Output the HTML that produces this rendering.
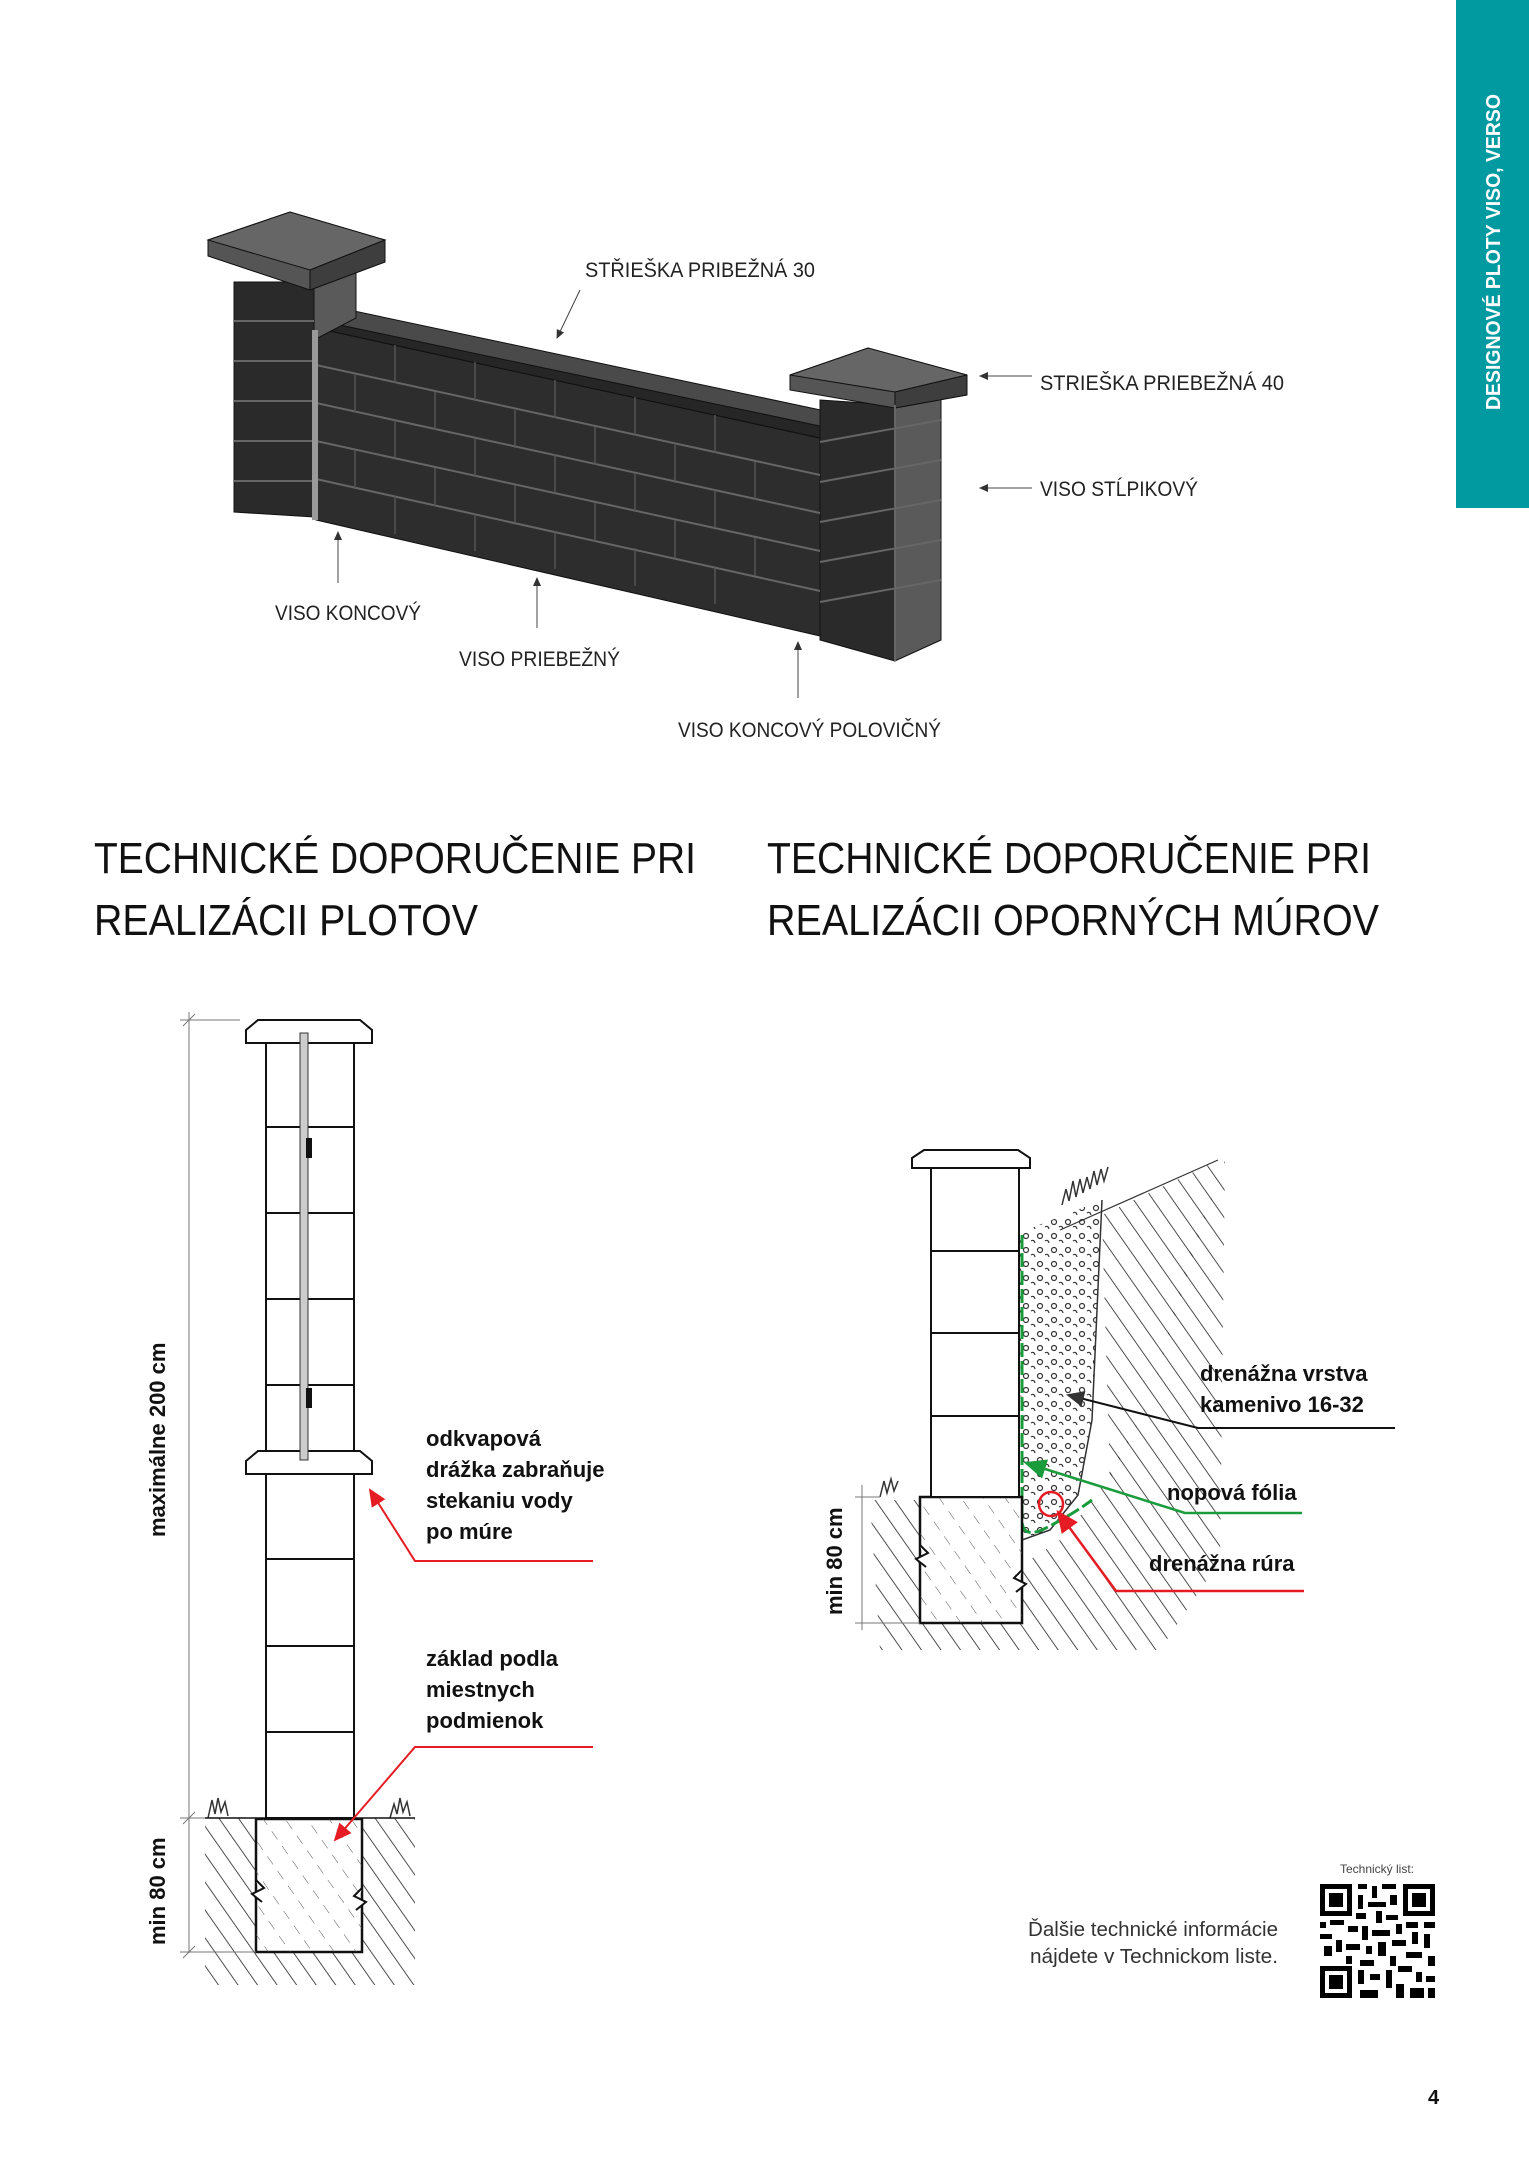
<!DOCTYPE html>
<html><head><meta charset="utf-8"><style>
html,body{margin:0;padding:0;background:#fff}
svg{display:block}
.l{font-family:"Liberation Sans",sans-serif;font-size:21px;fill:#222}
.h{font-family:"Liberation Sans",sans-serif;font-size:44px;fill:#111;font-weight:normal}
.b{font-family:"Liberation Sans",sans-serif;font-size:22px;fill:#111;font-weight:bold}
</style></head><body>
<svg width="1529" height="2160" viewBox="0 0 1529 2160" xmlns="http://www.w3.org/2000/svg">
<defs>
<pattern id="hat" patternUnits="userSpaceOnUse" width="16" height="16" patternTransform="rotate(-35)">
<line x1="0" y1="0" x2="0" y2="16" stroke="#222" stroke-width="1.6"/></pattern>
<pattern id="dash" patternUnits="userSpaceOnUse" width="18" height="18" patternTransform="rotate(-35)">
<line x1="0" y1="0" x2="0" y2="10" stroke="#555" stroke-width="1"/></pattern>
<pattern id="grav" patternUnits="userSpaceOnUse" width="14" height="14">
<circle cx="4" cy="4" r="2.5" fill="none" stroke="#333" stroke-width="1.2"/>
<path d="M9 9 q3 -2 4 2" fill="none" stroke="#333" stroke-width="1.2"/></pattern>
<marker id="ab" markerWidth="10" markerHeight="10" refX="8" refY="5" orient="auto"><path d="M0,1 L9,5 L0,9 z" fill="#333"/></marker>
<marker id="ar" markerWidth="10" markerHeight="10" refX="8" refY="5" orient="auto"><path d="M0,1 L9,5 L0,9 z" fill="#e51c23"/></marker>
<marker id="ag" markerWidth="10" markerHeight="10" refX="8" refY="5" orient="auto"><path d="M0,1 L9,5 L0,9 z" fill="#1a9b3c"/></marker>
</defs>

<rect x="1456" y="0" width="73" height="508" fill="#009aa0"/>
<text transform="translate(1500,410) rotate(-90)" font-family="Liberation Sans,sans-serif" font-weight="bold" font-size="20" fill="#fff" textLength="316" lengthAdjust="spacingAndGlyphs">DESIGNOVÉ PLOTY VISO, VERSO</text>

<g stroke="#111" stroke-width="1">
<polygon points="316,328 820,438 820,636 316,520" fill="#2d2d2d"/>
<polygon points="316,320 340,308 830,412 820,438 316,328" fill="#4a4a4a"/>
<polygon points="316,320 820,426 820,438 316,328" fill="#262626"/>
<polygon points="234,282 314,282 314,517 234,512" fill="#2a2a2a"/>
<polygon points="314,282 356,262 356,318 314,340" fill="#5a5a5a"/>
<polygon points="208,240 290,212 385,240 385,262 310,290 208,256" fill="#555"/>
<polygon points="208,240 290,212 385,240 310,270" fill="#666"/>
<polygon points="310,270 385,240 385,262 310,290" fill="#3e3e3e"/>
<polygon points="820,400 895,405 895,661 820,640" fill="#2a2a2a"/>
<polygon points="895,405 941,380 941,640 895,661" fill="#5a5a5a"/>
<polygon points="790,375 868,348 967,375 967,395 895,408 790,390" fill="#555"/>
<polygon points="790,375 868,348 967,375 895,392" fill="#666"/>
<polygon points="895,392 967,375 967,395 895,408" fill="#3e3e3e"/>
</g>
<g stroke="#666" stroke-width="2">
<line x1="316" y1="365" x2="820" y2="475"/><line x1="316" y1="403" x2="820" y2="513"/>
<line x1="316" y1="441" x2="820" y2="551"/><line x1="316" y1="479" x2="820" y2="591"/>
<line x1="234" y1="321" x2="314" y2="321"/><line x1="234" y1="361" x2="314" y2="361"/>
<line x1="234" y1="401" x2="314" y2="401"/><line x1="234" y1="441" x2="314" y2="441"/>
<line x1="234" y1="481" x2="314" y2="481"/>
<line x1="820" y1="442" x2="941" y2="420"/><line x1="820" y1="482" x2="941" y2="460"/>
<line x1="820" y1="522" x2="941" y2="500"/><line x1="820" y1="562" x2="941" y2="540"/>
<line x1="820" y1="602" x2="941" y2="580"/>
<line x1="895" y1="405" x2="895" y2="661"/>
</g>
<g stroke="#555" stroke-width="1.5">
<line x1="395" y1="345" x2="395" y2="383"/><line x1="475" y1="362" x2="475" y2="400"/>
<line x1="555" y1="380" x2="555" y2="418"/><line x1="635" y1="397" x2="635" y2="435"/>
<line x1="715" y1="415" x2="715" y2="453"/><line x1="355" y1="375" x2="355" y2="412"/>
<line x1="435" y1="392" x2="435" y2="430"/><line x1="515" y1="410" x2="515" y2="448"/>
<line x1="595" y1="427" x2="595" y2="465"/><line x1="675" y1="445" x2="675" y2="483"/>
<line x1="755" y1="462" x2="755" y2="500"/><line x1="395" y1="420" x2="395" y2="458"/>
<line x1="475" y1="438" x2="475" y2="476"/><line x1="555" y1="455" x2="555" y2="493"/>
<line x1="635" y1="473" x2="635" y2="511"/><line x1="715" y1="490" x2="715" y2="528"/>
<line x1="395" y1="496" x2="395" y2="534"/><line x1="475" y1="513" x2="475" y2="551"/>
<line x1="555" y1="531" x2="555" y2="569"/><line x1="635" y1="548" x2="635" y2="586"/>
<line x1="715" y1="566" x2="715" y2="604"/><line x1="355" y1="450" x2="355" y2="488"/>
<line x1="435" y1="468" x2="435" y2="506"/><line x1="515" y1="485" x2="515" y2="523"/>
<line x1="595" y1="503" x2="595" y2="541"/><line x1="675" y1="520" x2="675" y2="558"/>
<line x1="755" y1="538" x2="755" y2="576"/>
</g>
<rect x="312" y="330" width="6" height="190" fill="#999"/>

<g stroke="#444" stroke-width="1" fill="none">
<line x1="580" y1="290" x2="557" y2="338" marker-end="url(#ab)"/>
<line x1="1032" y1="376" x2="980" y2="376" marker-end="url(#ab)"/>
<line x1="1032" y1="488" x2="980" y2="488" marker-end="url(#ab)"/>
<line x1="338" y1="583" x2="338" y2="532" marker-end="url(#ab)"/>
<line x1="537" y1="628" x2="537" y2="578" marker-end="url(#ab)"/>
<line x1="798" y1="698" x2="798" y2="642" marker-end="url(#ab)"/>
</g>
<text class="l" x="585" y="277" textLength="230" lengthAdjust="spacingAndGlyphs">STŘIEŠKA PRIBEŽNÁ 30</text>
<text class="l" x="1040" y="390" textLength="244" lengthAdjust="spacingAndGlyphs">STRIEŠKA PRIEBEŽNÁ 40</text>
<text class="l" x="1040" y="496" textLength="158" lengthAdjust="spacingAndGlyphs">VISO STĹPIKOVÝ</text>
<text class="l" x="275" y="620" textLength="146" lengthAdjust="spacingAndGlyphs">VISO KONCOVÝ</text>
<text class="l" x="459" y="666" textLength="161" lengthAdjust="spacingAndGlyphs">VISO PRIEBEŽNÝ</text>
<text class="l" x="678" y="737" textLength="263" lengthAdjust="spacingAndGlyphs">VISO KONCOVÝ POLOVIČNÝ</text>

<text class="h" x="94" y="873" textLength="602" lengthAdjust="spacingAndGlyphs">TECHNICKÉ DOPORUČENIE PRI</text>
<text class="h" x="94" y="935" textLength="384" lengthAdjust="spacingAndGlyphs">REALIZÁCII PLOTOV</text>
<text class="h" x="767" y="873" textLength="604" lengthAdjust="spacingAndGlyphs">TECHNICKÉ DOPORUČENIE PRI</text>
<text class="h" x="767" y="935" textLength="612" lengthAdjust="spacingAndGlyphs">REALIZÁCII OPORNÝCH MÚROV</text>

<polygon points="205,1818 255,1818 255,1952 362,1952 362,1818 415,1818 415,1985 205,1985" fill="url(#hat)"/>
<rect x="256" y="1819" width="106" height="133" fill="#fff" stroke="#111" stroke-width="2.5"/>
<rect x="256" y="1819" width="106" height="133" fill="url(#dash)"/>
<path d="M256 1880 l8 8 -12 6 10 8" stroke="#111" stroke-width="2" fill="#fff"/>
<path d="M362 1888 l-8 8 12 6 -10 8" stroke="#111" stroke-width="2" fill="#fff"/>
<g stroke="#111" stroke-width="2" fill="#fff">
<rect x="266" y="1043" width="88" height="775"/>
<path d="M246 1030 l12 -10 h102 l12 10 v13 h-126 z"/>
<path d="M246 1461 l12 -10 h102 l12 10 v13 h-126 z"/>
<line x1="266" y1="1127" x2="354" y2="1127"/><line x1="266" y1="1213" x2="354" y2="1213"/>
<line x1="266" y1="1299" x2="354" y2="1299"/><line x1="266" y1="1385" x2="354" y2="1385"/>
<line x1="266" y1="1559" x2="354" y2="1559"/><line x1="266" y1="1646" x2="354" y2="1646"/>
<line x1="266" y1="1732" x2="354" y2="1732"/>
</g>
<rect x="300" y="1033" width="8" height="427" fill="#ccc" stroke="#333" stroke-width="1"/>
<rect x="306" y="1138" width="6" height="20" fill="#111"/><rect x="306" y="1388" width="6" height="20" fill="#111"/>
<path d="M208 1818 l4 -18 3 14 3 -16 3 14 4 -10 3 14 M390 1818 l4 -14 3 10 3 -16 3 14 4 -10 3 14" stroke="#333" stroke-width="1.5" fill="none"/>
<line x1="205" y1="1818" x2="415" y2="1818" stroke="#111" stroke-width="1.5"/>
<g stroke="#777" stroke-width="1">
<line x1="189" y1="1012" x2="189" y2="1953"/>
<line x1="180" y1="1020" x2="240" y2="1020"/><line x1="180" y1="1818" x2="205" y2="1818"/>
<line x1="180" y1="1952" x2="256" y2="1952"/>
<line x1="183" y1="1026" x2="195" y2="1014"/><line x1="183" y1="1824" x2="195" y2="1812"/><line x1="183" y1="1958" x2="195" y2="1946"/>
</g>
<text class="b" transform="translate(165,1537) rotate(-90)">maximálne 200 cm</text>
<text class="b" transform="translate(165,1945) rotate(-90)">min 80 cm</text>
<text class="b" x="426" y="1446">odkvapová</text>
<text class="b" x="426" y="1477">drážka zabraňuje</text>
<text class="b" x="426" y="1508">stekaniu vody</text>
<text class="b" x="426" y="1539">po múre</text>
<text class="b" x="426" y="1666">základ podla</text>
<text class="b" x="426" y="1697">miestnych</text>
<text class="b" x="426" y="1728">podmienok</text>
<g stroke="#e51c23" stroke-width="2" fill="none">
<polyline points="593,1561 415,1561 370,1490" marker-end="url(#ar)"/>
<polyline points="593,1747 415,1747 335,1840" marker-end="url(#ar)"/>
</g>

<polygon points="870,1500 920,1500 920,1623 1022,1623 1022,1565 1060,1540 1095,1498 1150,1400 1190,1250 1220,1175 1225,1160 1220,1560 1160,1650 880,1650" fill="url(#hat)"/>
<polygon points="1102,1215 1215,1162 1220,1175 1195,1250 1150,1400 1110,1480" fill="url(#hat)"/>
<polygon points="1019,1233 1102,1200 1092,1420 1078,1495 1050,1530 1022,1540" fill="url(#grav)"/>
<line x1="1060" y1="1230" x2="1218" y2="1160" stroke="#333" stroke-width="1.2"/>
<path d="M1062 1205 l4 -16 3 12 4 -20 3 16 4 -18 3 14 4 -16 3 12 4 -18 3 14 4 -16 3 12 4 -14 M880 1497 l4 -16 3 12 4 -14 3 12 4 -10" stroke="#333" stroke-width="1.5" fill="none"/>
<path d="M1102 1200 L1092 1420 L1078 1495 L1050 1530 L1022 1540" stroke="#333" stroke-width="1.5" fill="none"/>
<path d="M1022 1235 V1520 q0 18 20 10 q30 -15 50 -30" stroke="#1a9b3c" stroke-width="3" fill="none" stroke-dasharray="14 4"/>
<rect x="920" y="1497" width="102" height="126" fill="#fff" stroke="#111" stroke-width="2.5"/>
<rect x="920" y="1497" width="102" height="126" fill="url(#dash)"/>
<path d="M920 1545 l8 8 -12 6 10 8" stroke="#111" stroke-width="2" fill="#fff"/>
<path d="M1022 1570 l-8 8 12 6 -10 8" stroke="#111" stroke-width="2" fill="#fff"/>
<g stroke="#111" stroke-width="2" fill="#fff">
<rect x="931" y="1168" width="88" height="329"/>
<path d="M912 1158 l12 -8 h94 l12 8 v10 h-118 z"/>
<line x1="931" y1="1251" x2="1019" y2="1251"/><line x1="931" y1="1333" x2="1019" y2="1333"/><line x1="931" y1="1416" x2="1019" y2="1416"/>
</g>
<circle cx="1051" cy="1504" r="12" fill="none" stroke="#e51c23" stroke-width="2.5"/>
<g stroke="#777" stroke-width="1">
<line x1="862" y1="1485" x2="862" y2="1630"/>
<line x1="855" y1="1497" x2="880" y2="1497"/><line x1="855" y1="1623" x2="920" y2="1623"/>
</g>
<text class="b" transform="translate(842,1615) rotate(-90)">min 80 cm</text>
<text class="b" x="1200" y="1381">drenážna vrstva</text>
<text class="b" x="1200" y="1412">kamenivo 16-32</text>
<text class="b" x="1167" y="1500">nopová fólia</text>
<text class="b" x="1149" y="1571">drenážna rúra</text>
<polyline points="1395,1428 1198,1428 1068,1395" stroke="#111" stroke-width="2" fill="none" marker-end="url(#ab)"/>
<polyline points="1302,1513 1185,1513 1026,1463" stroke="#1a9b3c" stroke-width="2.5" fill="none" marker-end="url(#ag)"/>
<polyline points="1304,1591 1116,1591 1058,1512" stroke="#e51c23" stroke-width="2.5" fill="none" marker-end="url(#ar)"/>

<text x="1278" y="1936" text-anchor="end" font-family="Liberation Sans,sans-serif" font-size="20" fill="#333" textLength="250" lengthAdjust="spacingAndGlyphs">Ďalšie technické informácie</text>
<text x="1278" y="1963" text-anchor="end" font-family="Liberation Sans,sans-serif" font-size="20" fill="#333" textLength="248" lengthAdjust="spacingAndGlyphs">nájdete v Technickom liste.</text>
<text x="1377" y="1873" text-anchor="middle" font-family="Liberation Sans,sans-serif" font-size="12" fill="#444">Technický list:</text>
<g fill="#000">
<rect x="1320" y="1884" width="32" height="32"/><rect x="1325" y="1889" width="22" height="22" fill="#fff"/><rect x="1329" y="1893" width="14" height="14"/>
<rect x="1403" y="1884" width="32" height="32"/><rect x="1408" y="1889" width="22" height="22" fill="#fff"/><rect x="1412" y="1893" width="14" height="14"/>
<rect x="1320" y="1966" width="32" height="32"/><rect x="1325" y="1971" width="22" height="22" fill="#fff"/><rect x="1329" y="1975" width="14" height="14"/>
<rect x="1358" y="1884" width="9" height="5"/><rect x="1372" y="1886" width="5" height="12"/><rect x="1382" y="1884" width="14" height="5"/>
<rect x="1358" y="1895" width="5" height="14"/><rect x="1368" y="1902" width="18" height="5"/><rect x="1390" y="1895" width="7" height="10"/>
<rect x="1356" y="1913" width="10" height="6"/><rect x="1376" y="1911" width="6" height="12"/><rect x="1386" y="1915" width="12" height="5"/>
<rect x="1320" y="1922" width="6" height="6"/><rect x="1330" y="1920" width="14" height="5"/><rect x="1348" y="1926" width="10" height="6"/>
<rect x="1362" y="1926" width="6" height="14"/><rect x="1372" y="1930" width="18" height="6"/><rect x="1396" y="1924" width="6" height="10"/>
<rect x="1406" y="1922" width="12" height="6"/><rect x="1424" y="1922" width="11" height="6"/><rect x="1412" y="1932" width="6" height="12"/>
<rect x="1320" y="1934" width="12" height="5"/><rect x="1336" y="1940" width="6" height="12"/><rect x="1324" y="1946" width="8" height="10"/>
<rect x="1346" y="1944" width="14" height="6"/><rect x="1366" y="1946" width="6" height="8"/><rect x="1378" y="1942" width="8" height="14"/>
<rect x="1392" y="1940" width="14" height="6"/><rect x="1424" y="1934" width="6" height="14"/><rect x="1406" y="1952" width="16" height="6"/>
<rect x="1346" y="1956" width="6" height="8"/><rect x="1360" y="1960" width="14" height="6"/><rect x="1390" y="1956" width="6" height="10"/>
<rect x="1428" y="1956" width="7" height="10"/><rect x="1358" y="1970" width="6" height="14"/><rect x="1370" y="1974" width="10" height="6"/>
<rect x="1386" y="1970" width="6" height="18"/><rect x="1398" y="1966" width="14" height="6"/><rect x="1416" y="1972" width="6" height="10"/>
<rect x="1426" y="1976" width="9" height="6"/><rect x="1360" y="1990" width="18" height="8"/><rect x="1396" y="1984" width="8" height="14"/>
<rect x="1410" y="1988" width="14" height="10"/><rect x="1428" y="1988" width="7" height="10"/>
</g>
<text x="1428" y="2104" font-family="Liberation Sans,sans-serif" font-weight="bold" font-size="20" fill="#111">4</text>
</svg>
</body></html>
